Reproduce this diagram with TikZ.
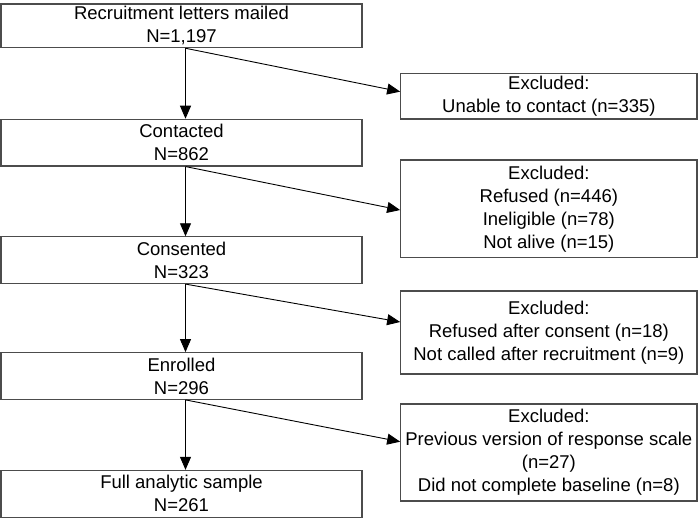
\documentclass[tikz,border=0pt]{standalone}
\usepackage{fontspec}
\setmainfont{Liberation Sans}
\usetikzlibrary{arrows.meta}
\begin{document}
\begin{tikzpicture}[x=1pt,y=-1pt,
  box/.style={draw=black!70, line width=1.1pt, inner sep=0pt, align=center,
    font=\fontsize{18.5}{23}\selectfont, minimum width=361pt, minimum height=46.7pt},
  exbox/.style={box, minimum width=296.3pt},
  arr/.style={line width=0.9pt, -{Triangle[length=13pt,width=11pt]}}]
\useasboundingbox (0,0) rectangle (698,518);
% main column
\node[box, minimum height=43.7pt] (b1) at (181.5,25.85) {Recruitment letters mailed\\N=1,197};
\node[box] (b2) at (181.5,142.65) {Contacted\\N=862};
\node[box] (b3) at (181.5,260.2) {Consented\\N=323};
\node[box] (b4) at (181.5,376) {Enrolled\\N=296};
\node[box] (b5) at (181.5,493.75) {Full analytic sample\\N=261};
% exclusions
\node[exbox, minimum height=45.7pt] (e1) at (548.85,96.15) {Excluded:\\Unable to contact (n=335)};
\node[exbox, minimum height=97.7pt] (e2) at (548.85,208.85) {Excluded:\\Refused (n=446)\\Ineligible (n=78)\\Not alive (n=15)};
\node[exbox, minimum height=83pt] (e3) at (548.85,332.5) {Excluded:\\Refused after consent (n=18)\\Not called after recruitment (n=9)};
\node[exbox, minimum height=97pt] (e4) at (548.85,452.5) {Excluded:\\Previous version of response scale\\(n=27)\\Did not complete baseline (n=8)};
% vertical arrows
\draw[arr] ([xshift=4pt]b1.south) -- ([xshift=4pt]b2.north);
\draw[arr] ([xshift=4pt]b2.south) -- ([xshift=4pt]b3.north);
\draw[arr] ([xshift=4pt]b3.south) -- ([xshift=4pt]b4.north);
\draw[arr] ([xshift=4pt]b4.south) -- ([xshift=4pt]b5.north);
% diagonal arrows
\draw[arr] ([xshift=4pt]b1.south) -- ([yshift=4.5pt]e1.west);
\draw[arr] ([xshift=4pt]b2.south) -- ([yshift=-1.2pt]e2.west);
\draw[arr] ([xshift=4pt]b3.south) -- ([yshift=10.5pt]e3.west);
\draw[arr] ([xshift=4pt]b4.south) -- ([yshift=10.8pt]e4.west);
\end{tikzpicture}
\end{document}
